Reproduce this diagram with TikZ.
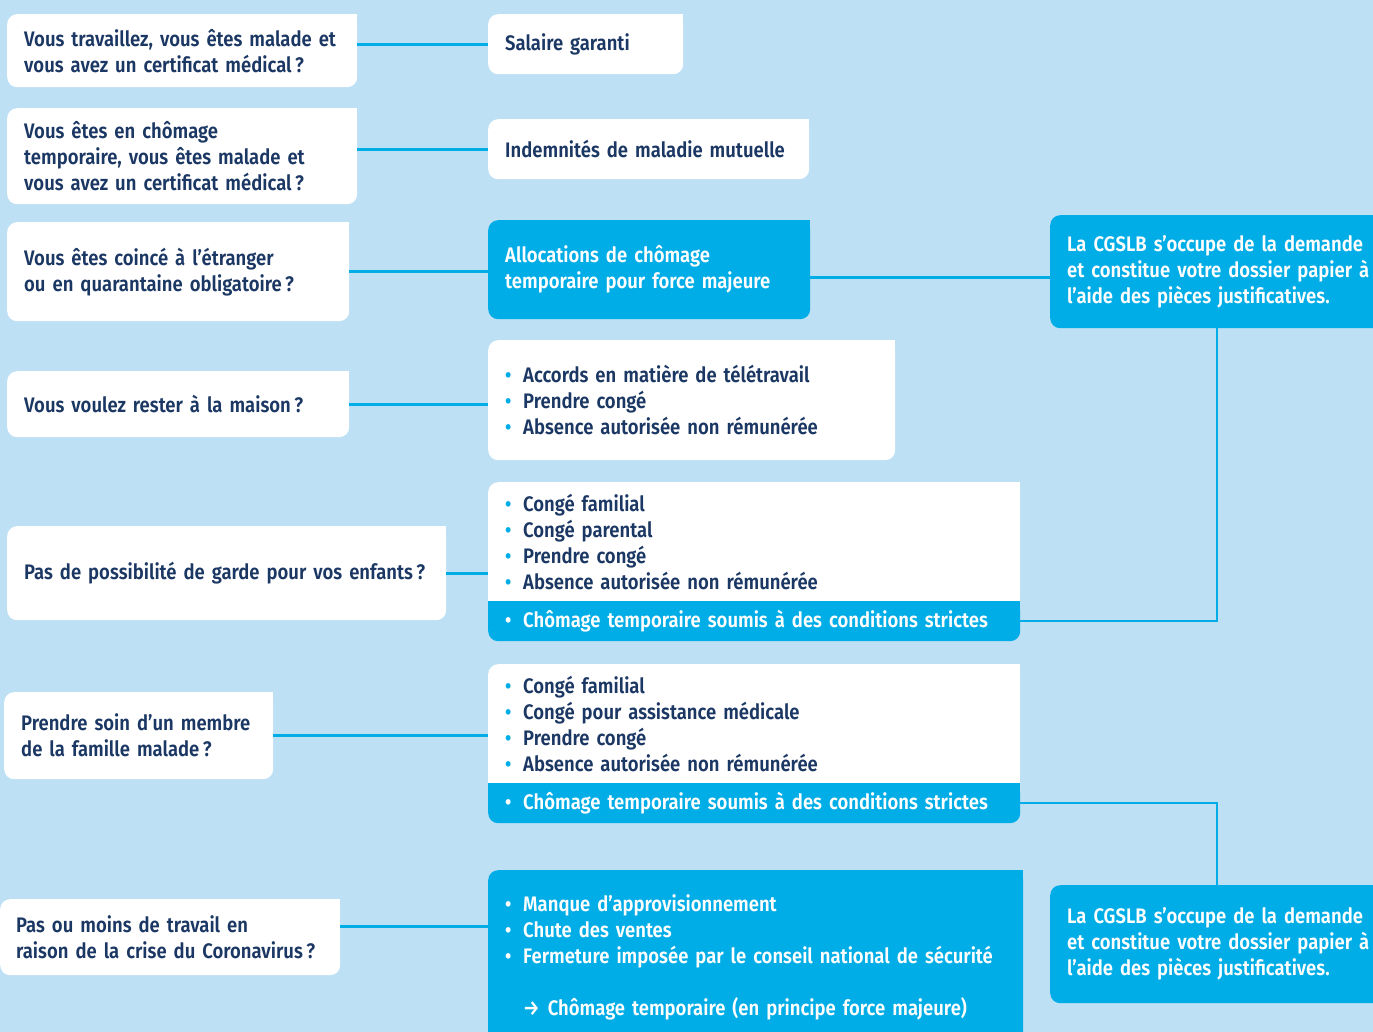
\documentclass[tikz,border=0pt]{standalone}
\usepackage{fontspec}
\setmainfont{Fira Sans}[BoldFont={Fira Sans SemiBold},FakeStretch=0.88]
\usepackage{tikz}

\definecolor{bgblue}{RGB}{189,224,245}
\definecolor{cgblue}{RGB}{0,173,230}
\definecolor{navy}{RGB}{27,55,99}

\newcommand{\bul}{\makebox[18pt][l]{\textcolor{cgblue}{•}}}
\newcommand{\wbul}{\makebox[18pt][l]{\textcolor{white}{•}}}

\begin{document}
\begin{tikzpicture}[x=1pt,y=-1pt,
	every node/.style={font=\bfseries\fontsize{21}{26}\selectfont},
	card/.style={anchor=north west,rounded corners=10pt,inner xsep=17pt,inner ysep=0pt,align=left},
	qcard/.style={card,fill=white,text=navy},
	bcard/.style={card,fill=cgblue,text=white},
	link/.style={draw=cgblue,line width=3pt},
	thin link/.style={draw=cgblue,line width=2.5pt}]

	\useasboundingbox (0,0) rectangle (1373,1032);
	\clip (0,0) rectangle (1373,1032);
	\fill[bgblue] (0,0) rectangle (1373,1032);

	\node[qcard,text width=316pt,minimum height=73pt] (q1) at (7,14) {Vous travaillez, vous êtes malade et\\vous avez un certificat médical\,?};
	\node[qcard,text width=316pt,minimum height=96pt] (q2) at (7,108) {Vous êtes en chômage\\temporaire, vous êtes malade et\\vous avez un certificat médical\,?};
	\node[qcard,text width=308pt,minimum height=99pt] (q3) at (7,222) {Vous êtes coincé à l’étranger\\ou en quarantaine obligatoire\,?};
	\node[qcard,text width=308pt,minimum height=66pt] (q4) at (7,371) {Vous voulez rester à la maison\,?};
	\node[qcard,text width=405pt,minimum height=94pt] (q5) at (7,526) {Pas de possibilité de garde pour vos enfants\,?};
	\node[qcard,text width=235pt,minimum height=87pt] (q6) at (4,692) {Prendre soin d’un membre\\de la famille malade\,?};
	\node[qcard,inner xsep=16pt,text width=308pt,minimum height=76pt] (q7) at (0,899) {Pas ou moins de travail en\\raison de la crise du Coronavirus\,?};

	\node[qcard,text width=161pt,minimum height=60pt] (a1) at (488,14) {Salaire garanti};
	\node[qcard,text width=287pt,minimum height=60pt] (a2) at (488,119) {Indemnités de maladie mutuelle};
	\node[bcard,text width=288pt,minimum height=99pt] (a3) at (488,220) {Allocations de chômage\\temporaire pour force majeure};
	\node[qcard,text width=373pt,minimum height=120pt] (a4) at (488,340) {\bul Accords en matière de télétravail\\\bul Prendre congé\\\bul Absence autorisée non rémunérée};
	\node[qcard,text width=498pt,minimum height=119pt] (a5) at (488,482) {\bul Congé familial\\\bul Congé parental\\\bul Prendre congé\\\bul Absence autorisée non rémunérée};
	\node[bcard,text width=498pt,minimum height=40pt] (a5b) at (488,601) {\wbul Chômage temporaire soumis à des conditions strictes};
	\node[qcard,text width=498pt,minimum height=119pt] (a6) at (488,664) {\bul Congé familial\\\bul Congé pour assistance médicale\\\bul Prendre congé\\\bul Absence autorisée non rémunérée};
	\node[bcard,text width=498pt,minimum height=40pt] (a6b) at (488,783) {\wbul Chômage temporaire soumis à des conditions strictes};
	\node[bcard,text width=501pt,minimum height=175pt] (a7) at (488,870) {\wbul Manque d’approvisionnement\\\wbul Chute des ventes\\\wbul Fermeture imposée par le conseil national de sécurité\\[26pt]\hspace*{18pt}→\hspace{8pt}Chômage temporaire (en principe force majeure)};

	\node[bcard,text width=326pt,minimum height=113pt] (r1) at (1050,215) {La CGSLB s’occupe de la demande\\et constitue votre dossier papier à\\l’aide des pièces justificatives.};
	\node[bcard,text width=326pt,minimum height=118pt] (r2) at (1050,885) {La CGSLB s’occupe de la demande\\et constitue votre dossier papier à\\l’aide des pièces justificatives.};

	\foreach \n/\c in {q1/white,q2/white,q3/white,q4/white,q5/white,q6/white,q7/white,a1/white,a2/white,a3/cgblue,a4/white,a5/white,a6/white,a7/cgblue}
		\fill[\c] ([xshift=-12pt,yshift=-12pt]\n.north east) rectangle (\n.north east);
	\foreach \n in {a5,a6} {
		\fill[white] ([xshift=12pt,yshift=12pt]\n.south west) rectangle (\n.south west);
		\fill[white] ([xshift=-12pt,yshift=12pt]\n.south east) rectangle (\n.south east);
		\fill[cgblue] ([xshift=12pt,yshift=-12pt]\n b.north west) rectangle (\n b.north west);
		\fill[cgblue] ([xshift=-12pt,yshift=-12pt]\n b.north east) rectangle (\n b.north east);
	}

	\coordinate (bend) at (1217,0);

	\path[link] (q1.east |- a1.west) edge (a1.west);
	\path[link] (q2.east |- a2.west) edge (a2.west);
	\path[link] (q3.east) edge (q3.east -| a3.west);
	\path[link] (q4.east) edge (q4.east -| a4.west);
	\path[link] (q5.east) edge (q5.east -| a5.west);
	\path[link] (q6.east) edge (q6.east -| a6.west);
	\path[link] ([yshift=11pt]q7.east) edge ([yshift=11pt]q7.east -| a7.west);
	\path[link] ([yshift=-6pt]r1.west -| a3.east) edge ([yshift=-6pt]r1.west);
	\draw[thin link] (a5b.east) -| (bend |- r1.south);
	\draw[thin link] (a6b.east) -| (bend |- r2.north);

\end{tikzpicture}
\end{document}
